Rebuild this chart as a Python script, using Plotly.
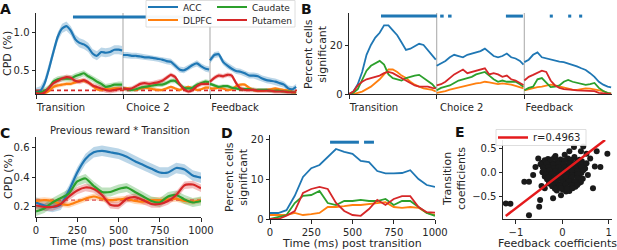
import plotly.graph_objects as go

W, H = 617, 250
FONT = "DejaVu Sans"
INK = "#262626"

# ---------------- data ----------------
regions = ["ACC", "DLPFC", "Caudate", "Putamen"]
region_colors = ["#1f77b4", "#ff7f0e", "#2ca02c", "#d62728"]
band_colors = ["rgba(31,119,180,0.3)", "rgba(255,127,14,0.3)",
               "rgba(44,160,44,0.3)", "rgba(214,39,40,0.3)"]

events = ["Transition", "Choice 2", "Feedback"]
event_offsets = [0, 1000, 2000]
seg_t = [0, 50, 100, 150, 200, 250, 300, 350, 400, 450, 500,
         550, 600, 650, 700, 750, 800, 850, 900, 950, 990]

# Panel A: CPD (%) in three epochs (Transition, Choice 2, Feedback)
A_ACC = [
    [0.22, 0.24, 0.34, 0.53, 0.75, 0.95, 1.06, 1.09, 1.03, 0.92, 0.87, 0.85, 0.81, 0.73, 0.70, 0.75, 0.74, 0.75, 0.78, 0.78, 0.77],
    [0.71, 0.71, 0.70, 0.70, 0.69, 0.68, 0.68, 0.67, 0.66, 0.65, 0.63, 0.62, 0.57, 0.52, 0.51, 0.54, 0.58, 0.60, 0.56, 0.53, 0.52],
    [0.64, 0.71, 0.72, 0.62, 0.57, 0.53, 0.50, 0.49, 0.47, 0.44, 0.44, 0.43, 0.40, 0.38, 0.37, 0.36, 0.34, 0.32, 0.27, 0.26, 0.29],
]
A_DLPFC = [
    [0.21, 0.21, 0.21, 0.24, 0.29, 0.31, 0.32, 0.33, 0.33, 0.35, 0.37, 0.37, 0.35, 0.31, 0.26, 0.25, 0.26, 0.26, 0.27, 0.27, 0.26],
    [0.26, 0.27, 0.26, 0.25, 0.27, 0.28, 0.27, 0.26, 0.25, 0.25, 0.27, 0.29, 0.27, 0.25, 0.27, 0.29, 0.27, 0.25, 0.26, 0.28, 0.28],
    [0.27, 0.27, 0.28, 0.27, 0.25, 0.26, 0.30, 0.32, 0.32, 0.28, 0.25, 0.24, 0.24, 0.25, 0.26, 0.27, 0.26, 0.25, 0.24, 0.22, 0.22],
]
A_Caudate = [
    [0.22, 0.22, 0.24, 0.28, 0.36, 0.39, 0.40, 0.40, 0.40, 0.43, 0.45, 0.47, 0.43, 0.40, 0.36, 0.33, 0.29, 0.30, 0.32, 0.32, 0.32],
    [0.27, 0.26, 0.25, 0.26, 0.28, 0.29, 0.30, 0.31, 0.32, 0.32, 0.34, 0.37, 0.37, 0.32, 0.28, 0.27, 0.28, 0.32, 0.34, 0.36, 0.35],
    [0.33, 0.31, 0.29, 0.30, 0.30, 0.28, 0.27, 0.26, 0.26, 0.26, 0.25, 0.25, 0.25, 0.25, 0.24, 0.24, 0.24, 0.23, 0.23, 0.22, 0.22],
]
A_Putamen = [
    [0.21, 0.20, 0.22, 0.28, 0.34, 0.37, 0.40, 0.42, 0.41, 0.37, 0.36, 0.38, 0.35, 0.31, 0.29, 0.27, 0.25, 0.24, 0.25, 0.26, 0.27],
    [0.27, 0.26, 0.27, 0.30, 0.33, 0.34, 0.33, 0.34, 0.35, 0.37, 0.41, 0.45, 0.42, 0.33, 0.26, 0.23, 0.25, 0.30, 0.33, 0.33, 0.33],
    [0.36, 0.41, 0.44, 0.43, 0.45, 0.44, 0.34, 0.27, 0.25, 0.25, 0.25, 0.24, 0.24, 0.24, 0.24, 0.23, 0.23, 0.23, 0.22, 0.22, 0.22],
]
A_sem = [[0.06, 0.04, 0.04], [0.025, 0.02, 0.02], [0.04, 0.03, 0.025], [0.035, 0.03, 0.03]]
A_chance = 0.245
A_sig = [(425, 1950)]
A_sig_level = 1.21

# Panel B: percent of cells significant
B_ACC = [
    [0, 1, 4, 9, 16, 20, 23, 25, 28, 28, 26, 24, 21, 18, 18.5, 19.5, 20.5, 20, 18, 16, 14],
    [11.5, 12.5, 13.5, 15, 16, 15.5, 15, 16, 16.5, 17, 17.5, 18.5, 17, 15.5, 15, 15.5, 16.5, 15, 14.5, 13.5, 12],
    [13, 14, 16, 17, 15, 14.5, 14, 13.5, 13.2, 13, 12.5, 12, 11.3, 10.5, 9.8, 8.5, 7, 5, 3.8, 3, 2.7],
]
B_DLPFC = [
    [0, 0, 0.5, 1, 2, 3, 4.5, 6, 8, 10, 10, 9, 7.5, 6.5, 5, 3.8, 3, 2.3, 2, 1.7, 1],
    [0.5, 0.8, 1.2, 1.8, 2.2, 2.8, 3.3, 3.7, 4, 4.3, 4.5, 5, 4.7, 4.2, 4, 4.3, 4.2, 3.8, 3.3, 2.7, 2.3],
    [1.5, 2, 2.5, 2.8, 3, 3.5, 3.8, 3.5, 3, 2.7, 2.3, 1.8, 1.7, 2, 2.3, 2.2, 1.8, 1.7, 1.2, 0.3, 0.2],
]
B_Caudate = [
    [0, 0.5, 2, 5.5, 9.5, 11.5, 12.5, 13.5, 12, 8, 6.5, 6, 5.5, 6.5, 7.1, 7.5, 7.8, 6.5, 5, 4, 2.3],
    [1.5, 2.5, 3, 3.5, 4.5, 5.5, 6, 6.5, 7, 8, 8.5, 9, 7.5, 6, 5, 5.5, 5, 5, 5, 4, 3],
    [1.5, 2.5, 3, 6, 6.5, 4.5, 2.8, 3, 3.5, 5, 5.7, 5, 4.5, 4, 3.7, 4, 4.5, 2.5, 1.2, 0.5, 0.2],
]
B_Putamen = [
    [0, 1, 3.5, 5, 6, 6.5, 7, 7.5, 8.5, 9, 8.5, 7.5, 6.5, 5.5, 4.5, 3.5, 3, 3, 3, 2.5, 2.3],
    [3.5, 4, 5, 6.5, 8, 9, 10, 8.5, 9, 9.5, 10, 10.5, 8, 8.5, 8, 7, 7.5, 6, 5.5, 4.5, 3.7],
    [5.5, 7, 7.8, 8.5, 9.5, 9, 5.5, 3.5, 2.5, 2, 1.7, 1.7, 1.5, 1.5, 1.5, 1.3, 1.2, 0.5, 0.2, 0.1, 0],
]
B_sig = [(365, 1003), (1040, 1080), (1130, 1170), (1790, 1984), (2290, 2325), (2500, 2535), (2625, 2660)]
B_sig_level = 31.8

# Panel C: Previous reward * Transition, CPD (%)
C_t = [0, 50, 100, 150, 200, 250, 300, 350, 400, 450, 500, 550, 600, 650, 700, 750, 800, 850, 900, 950, 1000]
C_ACC = [0.23, 0.21, 0.20, 0.215, 0.31, 0.43, 0.52, 0.565, 0.575, 0.565, 0.555, 0.535, 0.505, 0.48, 0.455, 0.43, 0.43, 0.46, 0.45, 0.41, 0.395]
C_DLPFC = [0.24, 0.245, 0.24, 0.22, 0.215, 0.235, 0.255, 0.27, 0.255, 0.245, 0.25, 0.255, 0.24, 0.235, 0.245, 0.245, 0.25, 0.255, 0.24, 0.235, 0.245]
C_Caudate = [0.17, 0.19, 0.23, 0.26, 0.29, 0.37, 0.39, 0.34, 0.30, 0.30, 0.32, 0.33, 0.30, 0.27, 0.24, 0.23, 0.27, 0.28, 0.25, 0.23, 0.24]
C_Putamen = [0.21, 0.20, 0.20, 0.22, 0.27, 0.31, 0.33, 0.32, 0.28, 0.215, 0.21, 0.255, 0.265, 0.245, 0.22, 0.22, 0.24, 0.28, 0.345, 0.35, 0.325]
C_sem = [0.035, 0.02, 0.03, 0.025]
C_chance = 0.245

# Panel D: percent of cells significant (Previous reward * Transition)
D_ACC = [1.5, 1.5, 2.2, 5.8, 10.5, 12.7, 13.5, 15.5, 17.5, 16.8, 16.3, 14.5, 14.2, 12, 11.4, 11.4, 11.5, 12.2, 10, 8.5, 8]
D_DLPFC = [1, 1, 1, 1.5, 1, 1.2, 1.5, 3, 3, 3.2, 3.5, 3.5, 3.7, 4, 4.2, 3, 2.8, 3, 2.8, 1.5, 1]
D_Caudate = [0, 0.5, 1, 4, 5.8, 6, 7, 4, 3.5, 4.5, 4.5, 4.8, 4.5, 4.5, 5, 3.5, 4.5, 4.5, 3, 1.5, 0.8]
D_Putamen = [0, 0, 0.8, 2, 6.5, 7.5, 8, 7.5, 4, 2, 1, 0.8, 2.5, 4.8, 3.5, 5, 5.7, 5.7, 3, 1.7, 1.6]
D_sig = [(364, 539), (570, 630)]
D_sig_level = 19.2

# Panel E: feedback vs transition coefficients (one point per cell)
E_feedback = [
    -1.22, -1.12, -0.72, -0.82, -0.72, -0.50, -0.48, -0.38, -0.52, -0.58, -0.36, -0.20, 0.08, -0.03, 0.66, 0.70,
    0.82, 0.97, 0.74, 0.45, 0.25, 0.15, 0.52, -0.63, -0.45, 0.55, 0.60, 0.40, -0.15, 0.05,
    -0.31, -0.18, -0.04, 0.12, 0.26, 0.37,
    -0.44, -0.33, -0.21, -0.09, 0.03, 0.16, 0.29, 0.42,
    -0.40, -0.27, -0.14, -0.04, 0.09, 0.21, 0.33, 0.46,
    -0.36, -0.24, -0.11, 0.01, 0.11, 0.23, 0.36, 0.49,
    -0.43, -0.30, -0.17, -0.06, 0.06, 0.16, 0.27, 0.41,
    -0.38, -0.26, -0.12, 0.00, 0.13, 0.25, 0.36,
    -0.33, -0.21, -0.08, 0.05, 0.18, 0.31, 0.44,
    -0.29, -0.15, -0.02, 0.10, 0.23, 0.36,
    -0.22, -0.10, 0.03, 0.16, 0.28,
    -0.12, 0.01, 0.15,
    -0.38, -0.25, -0.11, 0.05, 0.19, 0.32,
    -0.47, -0.34, -0.20, -0.09, 0.03, 0.15, 0.27, 0.39, 0.52,
    -0.42, -0.30, -0.19, -0.08, 0.05, 0.16, 0.28, 0.41,
    -0.40, -0.28, -0.15, -0.03, 0.09, 0.20, 0.32, 0.45,
    -0.35, -0.23, -0.10, 0.03, 0.10, 0.21, 0.33,
    -0.31, -0.18, -0.05, 0.08, 0.20, 0.32,
    -0.26, -0.12, 0.01, 0.14, 0.27, 0.40,
    -0.20, -0.06, 0.07, 0.20, 0.32,
    -0.16, -0.03, 0.10, 0.22,
]
E_transition = [
    -0.65, -0.66, -0.90, -0.19, -0.19, -0.72, -0.58, -0.33, 0.30, 0.12, 0.25, -0.54, -0.40, -0.48, -0.33, 0.13,
    0.12, 0.40, 0.45, 0.55, 0.54, 0.45, 0.40, -0.05, -0.28, -0.05, 0.30, 0.45, 0.35, 0.38,
    0.29, 0.31, 0.28, 0.30, 0.33, 0.27,
    0.21, 0.23, 0.20, 0.24, 0.21, 0.23, 0.20, 0.24,
    0.14, 0.16, 0.13, 0.17, 0.14, 0.16, 0.13, 0.17,
    0.07, 0.09, 0.06, 0.10, 0.07, 0.09, 0.06, 0.09,
    0.01, -0.02, 0.02, -0.01, 0.02, -0.02, 0.01, -0.01,
    -0.08, -0.06, -0.09, -0.06, -0.08, -0.05, -0.08,
    -0.14, -0.16, -0.13, -0.16, -0.14, -0.17, -0.13,
    -0.23, -0.21, -0.24, -0.21, -0.23, -0.22,
    -0.29, -0.31, -0.28, -0.32, -0.30,
    -0.38, -0.36, -0.39,
    0.26, 0.27, 0.25, 0.26, 0.27, 0.25,
    0.18, 0.19, 0.17, 0.19, 0.18, 0.19, 0.17, 0.19, 0.20,
    0.11, 0.12, 0.10, 0.12, 0.11, 0.12, 0.10, 0.12,
    0.04, 0.05, 0.03, 0.05, 0.04, 0.05, 0.03, 0.05,
    -0.04, -0.03, -0.05, -0.03, -0.04, -0.05, -0.03,
    -0.11, -0.10, -0.12, -0.10, -0.11, -0.12,
    -0.19, -0.18, -0.20, -0.18, -0.19, -0.20,
    -0.26, -0.27, -0.25, -0.27, -0.26,
    -0.34, -0.33, -0.34, -0.33,
]
E_r = 0.4963
E_fit_slope = 0.75
E_fit_intercept = 0.0

# ---------------- figure ----------------
def px(x):
    return x / W

def py(y):
    return 1 - y / H

fig = go.Figure()

A_all = [A_ACC, A_DLPFC, A_Caudate, A_Putamen]
B_all = [B_ACC, B_DLPFC, B_Caudate, B_Putamen]
C_all = [C_ACC, C_DLPFC, C_Caudate, C_Putamen]
D_all = [D_ACC, D_DLPFC, D_Caudate, D_Putamen]
legend_ids = ["legend", "legend2", "legend3", "legend4"]

# Panel A bands
for i in range(4):
    for k, off in enumerate(event_offsets):
        x = [off + t for t in seg_t]
        up = [v + A_sem[i][k] for v in A_all[i][k]]
        lo = [v - A_sem[i][k] for v in A_all[i][k]]
        fig.add_trace(go.Scatter(x=x + x[::-1], y=up + lo[::-1], fill="toself",
                                 fillcolor=band_colors[i], line=dict(width=0),
                                 mode="lines", hoverinfo="skip", showlegend=False,
                                 xaxis="x", yaxis="y"))
fig.add_trace(go.Scatter(x=[0, 3000], y=[A_chance, A_chance], mode="lines",
                         line=dict(color=region_colors[3], width=1.8, dash="4px,3px"),
                         showlegend=False, hoverinfo="skip", xaxis="x", yaxis="y"))
for i in range(4):
    xs, ys = [], []
    for k, off in enumerate(event_offsets):
        xs += [off + t for t in seg_t] + [None]
        ys += A_all[i][k] + [None]
    fig.add_trace(go.Scatter(x=xs, y=ys, mode="lines", name=regions[i],
                             line=dict(color=region_colors[i], width=2.2, shape="spline", smoothing=0.5),
                             legend=legend_ids[i], showlegend=True, xaxis="x", yaxis="y"))
for s, e in A_sig:
    fig.add_trace(go.Scatter(x=[s, e], y=[A_sig_level] * 2, mode="lines",
                             line=dict(color=region_colors[0], width=3),
                             showlegend=False, xaxis="x", yaxis="y"))

# Panel B
for i in range(4):
    xs, ys = [], []
    for k, off in enumerate(event_offsets):
        xs += [off + t for t in seg_t] + [None]
        ys += B_all[i][k] + [None]
    fig.add_trace(go.Scatter(x=xs, y=ys, mode="lines",
                             line=dict(color=region_colors[i], width=1.8),
                             showlegend=False, xaxis="x2", yaxis="y2"))
for s, e in B_sig:
    fig.add_trace(go.Scatter(x=[s, e], y=[B_sig_level] * 2, mode="lines",
                             line=dict(color=region_colors[0], width=3),
                             showlegend=False, xaxis="x2", yaxis="y2"))

# Panel C
for i in range(4):
    up = [v + C_sem[i] for v in C_all[i]]
    lo = [v - C_sem[i] for v in C_all[i]]
    fig.add_trace(go.Scatter(x=C_t + C_t[::-1], y=up + lo[::-1], fill="toself",
                             fillcolor=band_colors[i], line=dict(width=0), mode="lines",
                             hoverinfo="skip", showlegend=False, xaxis="x3", yaxis="y3"))
fig.add_trace(go.Scatter(x=[0, 1000], y=[C_chance, C_chance], mode="lines",
                         line=dict(color="rgba(214,39,40,0.6)", width=1.8, dash="4px,3px"),
                         showlegend=False, hoverinfo="skip", xaxis="x3", yaxis="y3"))
for i in range(4):
    fig.add_trace(go.Scatter(x=C_t, y=C_all[i], mode="lines",
                             line=dict(color=region_colors[i], width=2.2, shape="spline", smoothing=0.6),
                             showlegend=False, xaxis="x3", yaxis="y3"))

# Panel D
for i in range(4):
    fig.add_trace(go.Scatter(x=C_t, y=D_all[i], mode="lines",
                             line=dict(color=region_colors[i], width=1.8),
                             showlegend=False, xaxis="x4", yaxis="y4"))
for s, e in D_sig:
    fig.add_trace(go.Scatter(x=[s, e], y=[D_sig_level] * 2, mode="lines",
                             line=dict(color=region_colors[0], width=3),
                             showlegend=False, xaxis="x4", yaxis="y4"))

# Panel E
fig.add_trace(go.Scatter(x=E_feedback, y=E_transition, mode="markers",
                         marker=dict(color="#1a1a1a", size=6),
                         showlegend=False, xaxis="x5", yaxis="y5"))
fx0, fx1 = min(E_feedback), max(E_feedback) - 0.05
fig.add_trace(go.Scatter(x=[fx0, fx1],
                         y=[E_fit_intercept + E_fit_slope * fx0, E_fit_intercept + E_fit_slope * fx1],
                         mode="lines", name=f"r={E_r}", line=dict(color="#e41a1c", width=2.5),
                         legend="legend5", showlegend=True, xaxis="x5", yaxis="y5"))

# ---------------- axes ----------------
def axstyle(**kw):
    d = dict(showline=True, linecolor=INK, linewidth=1, ticks="outside", ticklen=3.5,
             tickwidth=0.9, tickcolor=INK, tickfont=dict(size=10, color=INK, family=FONT),
             showgrid=False, zeroline=False)
    d.update(kw)
    return d

layout = dict(
    width=W, height=H, margin=dict(l=0, r=0, t=0, b=0, autoexpand=False),
    paper_bgcolor="white", plot_bgcolor="white",
    font=dict(family=FONT, size=10, color=INK),
    xaxis=axstyle(domain=[px(36), px(297)], range=[0, 3000], tickvals=event_offsets,
                  ticktext=events, ticklabelshift=25, anchor="y"),
    yaxis=axstyle(domain=[py(94), py(13)], range=[0.197, 1.263], tickvals=[0.5, 1.0],
                  ticktext=["0.5", "1.0"], anchor="x"),
    xaxis2=axstyle(domain=[px(349), px(612)], range=[0, 3000], tickvals=event_offsets,
                   ticktext=events, ticklabelshift=25, anchor="y2"),
    yaxis2=axstyle(domain=[py(94), py(13)], range=[0, 33.06], tickvals=[0, 20], anchor="x2"),
    xaxis3=axstyle(domain=[px(36), px(201)], range=[0, 1000], tickvals=[0, 250, 500, 750, 1000], anchor="y3"),
    yaxis3=axstyle(domain=[py(217), py(137)], range=[0.133, 0.667], tickvals=[0.2, 0.4, 0.6],
                   ticktext=["0.2", "0.4", "0.6"], anchor="x3"),
    xaxis4=axstyle(domain=[px(270), px(435)], range=[0, 1000], tickvals=[0, 250, 500, 750, 1000], anchor="y4"),
    yaxis4=axstyle(domain=[py(219), py(135)], range=[0, 21], tickvals=[0, 10, 20], anchor="x4"),
    xaxis5=axstyle(domain=[px(503), px(612)], range=[-1.28, 1.07], tickvals=[-1, 0, 1], anchor="y5"),
    yaxis5=axstyle(domain=[py(219), py(140)], range=[-0.98, 0.69], tickvals=[-0.5, 0.0, 0.5],
                   tickformat=".1f", anchor="x5"),
)

leg_common = dict(bgcolor="rgba(0,0,0,0)", borderwidth=0, font=dict(size=9, color=INK, family=FONT),
                  itemwidth=30, xanchor="left", yanchor="middle", orientation="v")
layout["legend"] = dict(leg_common, x=px(143), y=py(7))
layout["legend2"] = dict(leg_common, x=px(143), y=py(20))
layout["legend3"] = dict(leg_common, x=px(212), y=py(7))
layout["legend4"] = dict(leg_common, x=px(212), y=py(20))
layout["legend5"] = dict(leg_common, x=px(493), y=py(137.5), font=dict(size=10, color=INK, family=FONT))

shapes = []
for off in event_offsets[1:]:
    for xr, yr in (("x", "y domain"), ("x2", "y2 domain")):
        shapes.append(dict(type="line", xref=xr, yref=yr, x0=off, x1=off, y0=0, y1=1,
                           line=dict(color="#b5b5b5", width=1.2), layer="below"))
shapes.append(dict(type="rect", xref="paper", yref="paper", x0=px(146), x1=px(295), y0=py(27), y1=py(0.5),
                   line=dict(color="#d6d6d6", width=0.8), fillcolor="rgba(255,255,255,0.95)", layer="above"))
shapes.append(dict(type="rect", xref="paper", yref="paper", x0=px(496), x1=px(586), y0=py(145.5), y1=py(129.5),
                   line=dict(color="#d6d6d6", width=0.8), fillcolor="rgba(255,255,255,0.9)", layer="above"))
layout["shapes"] = shapes

ann = []
def text(x, y, s, size=11, angle=0, bold=False, xanchor="center"):
    ann.append(dict(x=px(x), y=py(y), xref="paper", yref="paper", text=f"<b>{s}</b>" if bold else s,
                    showarrow=False, textangle=angle, xanchor=xanchor, yanchor="middle",
                    font=dict(size=size, color="#111" if bold else INK, family=FONT)))

for letter, x, y in (("A", 5, 9), ("B", 306, 9), ("C", 5, 133), ("D", 227, 133), ("E", 460, 132)):
    text(x, y, letter, size=14, bold=True)
text(8, 54, "CPD (%)", angle=-90)
text(316, 54, "Percent cells<br>significant", angle=-90)
text(8, 177, "CPD (%)", angle=-90)
text(236, 177, "Percent cells<br>significant", angle=-90)
text(454, 179, "Transition<br>coefficients", angle=-90)
text(120, 130, "Previous reward * Transition", size=10)
text(118.5, 241.5, "Time (ms) post transition")
text(352, 243.3, "Time (ms) post transition")
text(557, 243.3, "Feedback coefficients")
layout["annotations"] = ann

fig.update_layout(**layout)
fig.write_html("out.html")
